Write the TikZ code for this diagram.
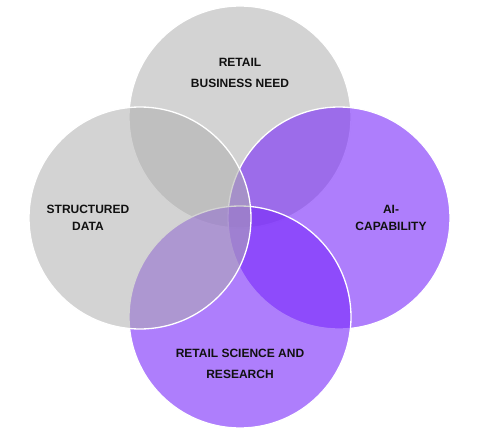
\documentclass[tikz,border=0pt]{standalone}
\usepackage{fontspec}
\setmainfont{Liberation Sans}
\definecolor{vgray}{RGB}{174,174,174}
\definecolor{vpurple}{RGB}{120,40,250}
\definecolor{vtext}{RGB}{17,17,17}
\tikzset{
  vcirc/.style={circle, inner sep=0pt, minimum size=222pt, draw=white, line width=1.3pt},
  graycirc/.style={vcirc, fill=vgray, fill opacity=0.54},
  purplecirc/.style={vcirc, fill=vpurple, fill opacity=0.6},
  lbl/.style={align=center, text=vtext, inner sep=0pt},
  lblwide/.style={lbl, font=\bfseries\fontsize{12}{21}\selectfont},
  lblnarrow/.style={lbl, font=\bfseries\fontsize{12}{16.5}\selectfont}
}
\begin{document}
\begin{tikzpicture}[x=1pt,y=-1pt]
\useasboundingbox (0,0) rectangle (479,433);
\node[graycirc] (cneed) at (240,117) {};
\node[purplecirc] (cai) at (339,218) {};
\node[purplecirc] (csci) at (240,317) {};
\node[graycirc] (cdata) at (140,218) {};
\node[lblwide] (tneed) at (240,73) {RETAIL\\BUSINESS NEED};
\node[lblnarrow] (tdata) at (88,218) {STRUCTURED\\DATA};
\node[lblnarrow] (tai) at (391,218) {AI-\\CAPABILITY};
\node[lblwide] (tsci) at (240,364) {RETAIL SCIENCE AND\\RESEARCH};
\end{tikzpicture}
\end{document}
